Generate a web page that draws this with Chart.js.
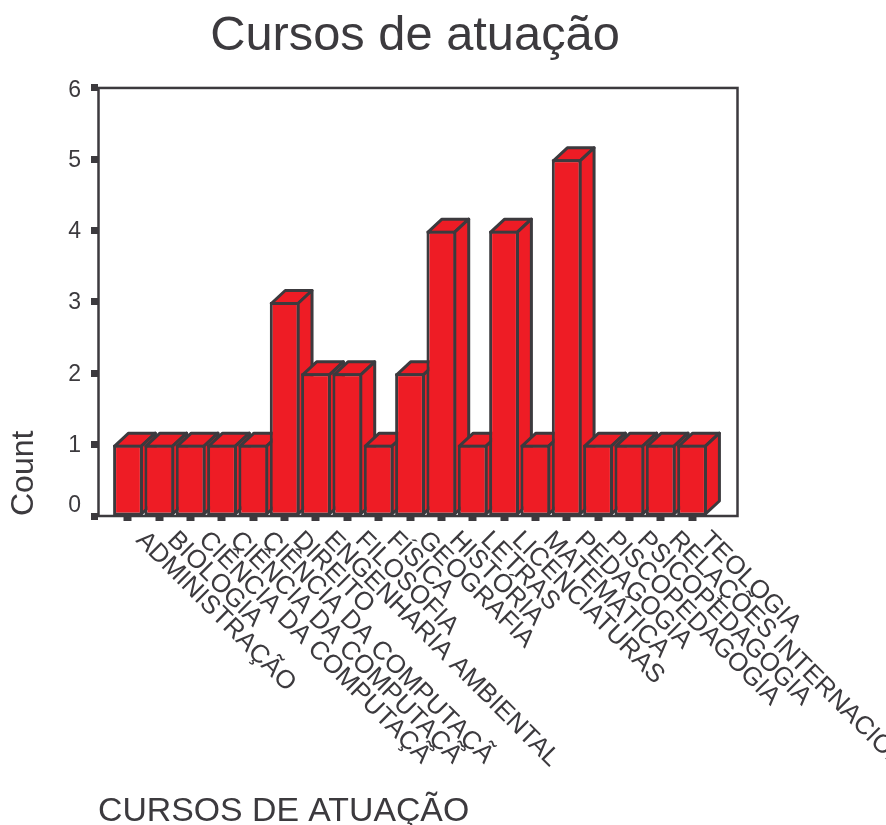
<!DOCTYPE html>
<html><head><meta charset="utf-8">
<style>html,body{margin:0;padding:0;background:#fff}canvas{display:block}</style>
<script src="https://cdn.jsdelivr.net/npm/chart.js@4/dist/chart.umd.js"></script>
</head><body><canvas id="c" width="886" height="825"></canvas>
<script>
const categories = ["ADMINISTRAÇÃO","BIOLOGIA","CIÊNCIA DA COMPUTAÇÃ","CIÊNCIA DA COMPUTAÇÃ","CIÊNCIA DA COMPUTAÇÃ","DIREITO","ENGENHARIA AMBIENTAL","FILOSOFIA","FÍSICA","GEOGRAFIA","HISTÓRIA","LETRAS","LICENCIATURAS","MATEMÁTICA","PEDAGOGIA","PISCOPEDAGOGIA","PSICOPEDAGOGIA","RELAÇÕES INTERNACION","TEOLOGIA"];
const counts = [1,1,1,1,1,3,2,2,1,2,4,1,4,1,5,1,1,1,1];
const yTickValues = [0,1,2,3,4,5,6];
const titleText = "Cursos de atuação";
const xTitle = "CURSOS DE ATUAÇÃO";
const yTitle = "Count";

const INK = "#3c3a3e", RED = "#ee1c25", FONT = "'Liberation Sans', Arial, sans-serif";
const DEPTH_X = 14, DEPTH_Y = 13, BAR_BORDER = 3;

class InsetCategory extends Chart.CategoryScale {
  configure() {
    super.configure();
    this._startPixel += 14.3;
    this._endPixel -= 29.3;
    this._length = this._endPixel - this._startPixel;
  }
}
InsetCategory.id = "insetCategory";
InsetCategory.defaults = Chart.CategoryScale.defaults;
Chart.register(InsetCategory);

const frameAndDepth = {
  id: "frameAndDepth",
  beforeDraw(chart) {
    if (chart.$labelsShifted) return;
    chart.$labelsShifted = true;
    const items = chart.scales.y.getLabelItems();
    items.forEach(it => { it.options.translation[1] += 1; });
    items[0].options.translation[1] -= 11;
    items[items.length - 1].options.translation[1] += 2;
    chart.titleBlock.left -= 2.5;
    chart.titleBlock.right -= 2.5;
  },
  beforeDatasetsDraw(chart) {
    const { ctx, chartArea: a } = chart;
    ctx.save();
    ctx.strokeStyle = INK; ctx.lineWidth = 2.5;
    ctx.strokeRect(a.left + 0.5, a.top, a.right - a.left, a.bottom - a.top);
    ctx.lineWidth = BAR_BORDER; ctx.lineJoin = "round"; ctx.fillStyle = RED;
    chart.getDatasetMeta(0).data.forEach(bar => {
      const l = bar.x - bar.width / 2 + BAR_BORDER / 2, r = bar.x + bar.width / 2 - BAR_BORDER / 2;
      const t = bar.y + BAR_BORDER / 2, b = bar.base - BAR_BORDER / 2;
      ctx.beginPath();
      ctx.moveTo(l, t); ctx.lineTo(l + DEPTH_X, t - DEPTH_Y); ctx.lineTo(r + DEPTH_X, t - DEPTH_Y); ctx.lineTo(r, t); ctx.closePath();
      ctx.fill(); ctx.stroke();
      ctx.beginPath();
      ctx.moveTo(r, t); ctx.lineTo(r + DEPTH_X, t - DEPTH_Y); ctx.lineTo(r + DEPTH_X, b - DEPTH_Y); ctx.lineTo(r, b); ctx.closePath();
      ctx.fill(); ctx.stroke();
    });
    ctx.restore();
  }
};

new Chart(document.getElementById("c"), {
  type: "bar",
  data: { labels: categories, datasets: [{ data: counts, backgroundColor: RED, borderColor: INK, borderWidth: BAR_BORDER, borderSkipped: false, barPercentage: 0.95, categoryPercentage: 1 }] },
  plugins: [frameAndDepth],
  options: {
    responsive: false, animation: false,
    layout: { padding: { right: 149 } },
    plugins: {
      legend: { display: false }, tooltip: { enabled: false },
      title: { display: true, text: titleText, color: INK, fullSize: false, align: "center", font: { family: FONT, size: 48.8, weight: "normal", lineHeight: 1.2 }, padding: { top: 7, bottom: 22.4 } }
    },
    scales: {
      x: {
        type: "insetCategory", offset: true,
        grid: { display: true, offset: false, drawOnChartArea: false, drawTicks: true, tickLength: 5, tickWidth: 8, tickColor: INK },
        border: { display: false },
        ticks: { autoSkip: false, minRotation: -45, maxRotation: -45, color: INK, padding: 4, labelOffset: 12, font: { family: FONT, size: 25.7 } },
        title: { display: true, text: xTitle, color: INK, align: "start", padding: 0, font: { family: FONT, size: 33.8, lineHeight: 0.8 } },
        afterDataLimits(s) { s._getXAxisLabelAlignment = () => "left"; },
        afterFit(s) { s.height = 309; s.paddingLeft = s.paddingRight = s.paddingTop = s.paddingBottom = 0; }
      },
      y: {
        min: 0, max: 6,
        afterBuildTicks(s) { s.ticks = yTickValues.map(v => ({ value: v })); },
        grid: { display: true, drawOnChartArea: false, drawTicks: true, tickLength: 7, tickWidth: 7, tickColor: INK },
        border: { display: false },
        ticks: { color: INK, padding: 10, font: { family: FONT, size: 23 } },
        title: { display: true, text: yTitle, color: INK, align: "start", padding: { top: 5, bottom: 0 }, font: { family: FONT, size: 32, lineHeight: 1.2 } },
        afterFit(s) { s.width = 98; s.paddingTop = s.paddingBottom = 0; }
      }
    }
  }
});
</script></body></html>
